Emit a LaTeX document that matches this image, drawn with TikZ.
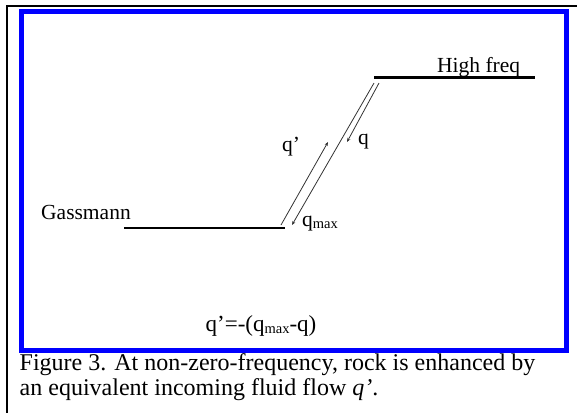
\documentclass[tikz,border=0pt]{standalone}
\usepackage{fontspec}
\setmainfont{Liberation Serif}
\usetikzlibrary{arrows.meta, positioning}
\definecolor{frameblue}{RGB}{0,0,255}
\tikzset{
  level/.style={line width=2.4pt, line cap=butt},
  flow/.style={line width=0.8pt, black!80, -{Stealth[length=4pt, width=3.2pt]}},
  lab/.style={inner sep=0pt, anchor=base west, font=\fontsize{21.5}{24}\selectfont},
  caption/.style={inner sep=0pt, anchor=base west, align=left, font=\fontsize{24}{25}\selectfont}
}
\newcommand{\qsub}{q\raisebox{-2.5pt}{\fontsize{14.5}{14.5}\selectfont max}}

\begin{document}
\begin{tikzpicture}[x=1pt, y=-1pt]
  \useasboundingbox (0,0) rectangle (577,413);

  % frames
  \draw [line width=2pt] (577,5.5) -- (7,5.5) -- (7,413);
  \draw [frameblue, line width=5pt] (21.5,11.5) rectangle (566,350.5);

  % energy levels
  \coordinate (gassL) at (124,228);
  \coordinate (gassR) at (285,228);
  \coordinate (highL) at (374,77.5);
  \coordinate (highR) at (535,77.5);
  \draw [level] (gassL) -- (gassR);
  \draw [level] (highL) -- (highR);

  \node (gass) [lab] at (41,219) {Gassmann};
  \node (high) [lab] at (437,72.5) {High freq};

  % flows
  \coordinate (qpstart) at (281,225);
  \coordinate (qptip) at (328,142);
  \coordinate (qmaxstart) at (374,83);
  \coordinate (qmaxtip) at (292,225);
  \coordinate (qstart) at (379,83);
  \coordinate (qtip) at (347,142);
  \draw [flow] (qpstart) -- (qptip);
  \draw [flow] (qmaxstart) -- (qmaxtip);
  \draw [flow] (qstart) -- (qtip);

  \node (qp) [lab] at (282,151.5) {q’};
  \node (q) [lab] at (358,144) {q};
  \node (qmax) [lab] at (302,226) {\qsub};

  \node (eq) [lab, anchor=base, font=\fontsize{23}{24}\selectfont] at (261,331) {q’=-(\qsub-q)};

  \node (cap) [caption] at (19.5,395) {Figure 3. At non-zero-frequency, rock is enhanced by\\an equivalent incoming fluid flow \textit{q’}.};
\end{tikzpicture}
\end{document}
